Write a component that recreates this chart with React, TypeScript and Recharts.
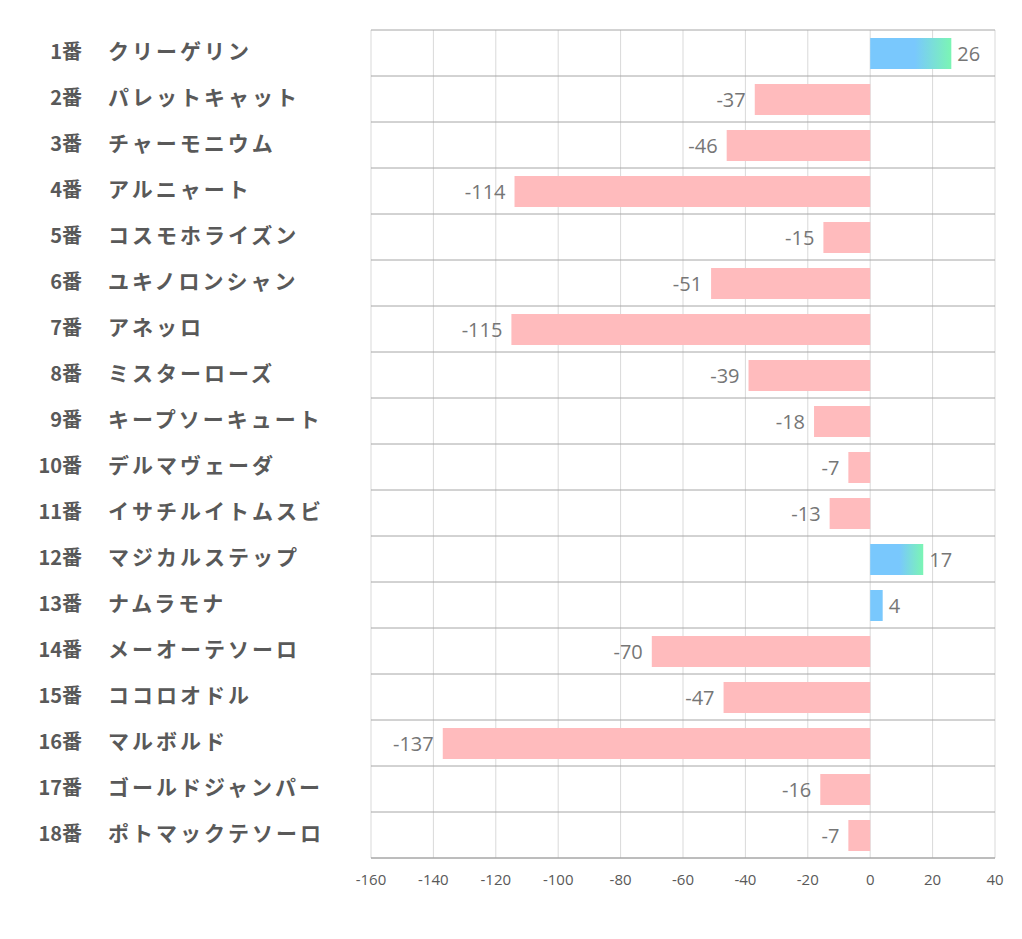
import { BarChart, Bar, XAxis, YAxis, CartesianGrid, Cell, LabelList } from "recharts";

const horseNos = ["1番", "2番", "3番", "4番", "5番", "6番", "7番", "8番", "9番", "10番", "11番", "12番", "13番", "14番", "15番", "16番", "17番", "18番"];
const horseNames = [
  "クリーゲリン", "パレットキャット", "チャーモニウム", "アルニャート", "コスモホライズン", "ユキノロンシャン",
  "アネッロ", "ミスターローズ", "キープソーキュート", "デルマヴェーダ", "イサチルイトムスビ", "マジカルステップ",
  "ナムラモナ", "メーオーテソーロ", "ココロオドル", "マルボルド", "ゴールドジャンパー", "ポトマックテソーロ",
];
const scores = [26, -37, -46, -114, -15, -51, -115, -39, -18, -7, -13, 17, 4, -70, -47, -137, -16, -7];
const xTicks = [-160, -140, -120, -100, -80, -60, -40, -20, 0, 20, 40];

const data = horseNames.map((name, i) => ({ key: i, no: horseNos[i], name, value: scores[i] }));

const labelFont = "'Noto Sans CJK JP', 'Noto Sans', sans-serif";

function HorseTick(props: any) {
  const { y, payload } = props;
  const row = data[payload.value];
  return (
    <g>
      <text x={82} y={y} dy={6} textAnchor="end" fontSize={20} fontWeight={700} fill="#595959" fontFamily={labelFont}>
        {row.no}
      </text>
      <text x={108} y={y} dy={6} textAnchor="start" fontSize={21} fontWeight={700} fill="#595959" fontFamily={labelFont} letterSpacing={3}>
        {row.name}
      </text>
    </g>
  );
}

function ValueLabel(props: any) {
  const { x, y, width, height, value } = props;
  const left = Math.min(x, x + width);
  const right = Math.max(x, x + width);
  const pos = value >= 0;
  return (
    <text
      x={pos ? right + 6 : left - 9}
      y={y + height / 2}
      dy={7}
      textAnchor={pos ? "start" : "end"}
      fontSize={20}
      fill="#767676"
      fontFamily="'Open Sans', sans-serif"
    >
      {value}
    </text>
  );
}

export default function App() {
  return (
    <div style={{ width: 1022, height: 939, background: "#fff" }}>
      <style>{`body{margin:0}`}</style>
      <BarChart
        width={1022}
        height={939}
        data={data}
        layout="vertical"
        margin={{ top: 30, right: 27, left: 0, bottom: 51 }}
        barSize={31}
      >
        <defs>
          <linearGradient id="gPos" x1="0" y1="0" x2="1" y2="0">
            <stop offset="0%" stopColor="#79c8fd" />
            <stop offset="55%" stopColor="#79c8fd" />
            <stop offset="100%" stopColor="#7bf5b4" />
          </linearGradient>
        </defs>
        <CartesianGrid horizontal={false} stroke="#d9d9d9" />
        <CartesianGrid
          vertical={false}
          stroke="#a6a6a6"
          horizontalCoordinatesGenerator={({ offset }: any) =>
            data.map((_, i) => offset.top + (i * offset.height) / data.length).concat(offset.top + offset.height)
          }
        />
        <XAxis
          type="number"
          domain={[-160, 40]}
          ticks={xTicks}
          interval={0}
          height={30}
          tickLine={false}
          axisLine={{ stroke: "#a6a6a6" }}
          tickMargin={10}
          tick={{ fontSize: 15, fill: "#595959", fontFamily: "'Liberation Sans Narrow', 'Open Sans', sans-serif" }}
        />
        <YAxis
          type="category"
          dataKey="key"
          width={371}
          tickLine={false}
          axisLine={false}
          interval={0}
          tick={<HorseTick />}
        />
        <Bar dataKey="value" isAnimationActive={false}>
          {data.map((d) => (
            <Cell key={d.key} fill={d.value >= 0 ? (d.value < 10 ? "#79c8fd" : "url(#gPos)") : "#ffbbbd"} />
          ))}
          <LabelList dataKey="value" content={<ValueLabel />} />
        </Bar>
      </BarChart>
    </div>
  );
}
